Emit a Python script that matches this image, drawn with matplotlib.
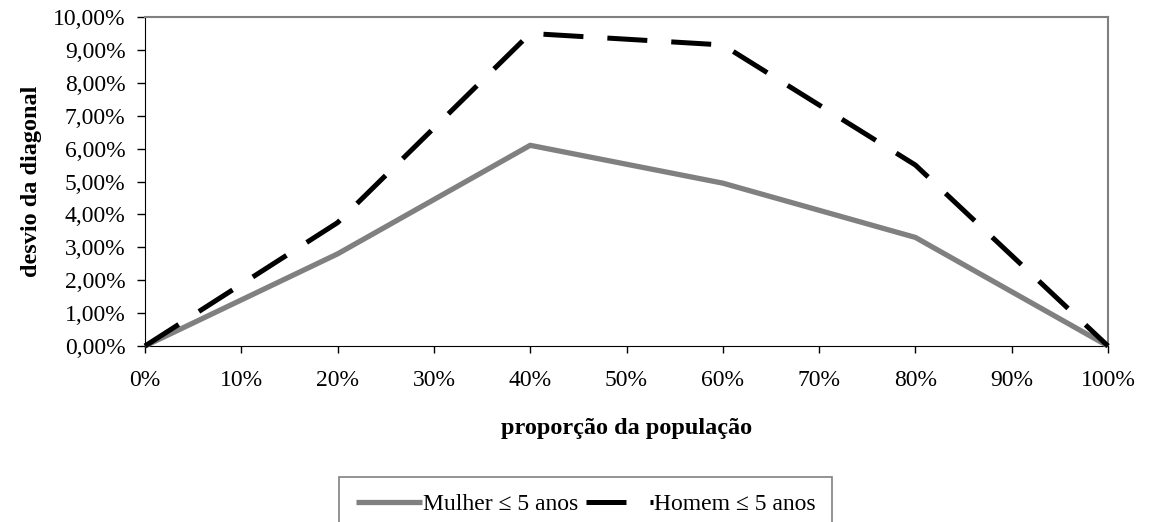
import matplotlib
matplotlib.use("Agg")
import matplotlib.pyplot as plt
from matplotlib.ticker import FuncFormatter

x_pct = [0, 20, 40, 60, 80, 100]
mulher = [0.0, 2.8, 6.1, 4.95, 3.3, 0.0]
homem = [0.0, 3.75, 9.5, 9.15, 5.5, 0.0]
x_ticks = list(range(0, 101, 10))
y_ticks = list(range(0, 11, 1))

plt.rcParams['font.family'] = ['Liberation Serif', 'DejaVu Serif']

W, H = 1149, 522
fig = plt.figure(figsize=(W/100, H/100), dpi=100)
L, R, T, B = 145, 1108, 17, 346
ax = fig.add_axes([L/W, 1-B/H, (R-L)/W, (B-T)/H])

ax.plot(x_pct, mulher, color='#808080', lw=3.8, solid_capstyle='butt',
        label='Mulher ≤ 5 anos', zorder=3, clip_on=False)
ax.plot(x_pct, homem, color='black', lw=3.6, dashes=(8.0, 4.8),
        label='Homem ≤ 5 anos', zorder=4, clip_on=False)

ax.set_xlim(0, 100)
ax.set_ylim(0, 10)
ax.set_xticks(x_ticks)
ax.set_yticks(y_ticks)
ax.xaxis.set_major_formatter(FuncFormatter(lambda v, p: f"{int(round(v))}%"))
ax.yaxis.set_major_formatter(FuncFormatter(lambda v, p: f"{v:.2f}".replace('.', ',') + "%"))
ax.tick_params(axis='both', direction='out', width=1, labelsize=17, colors='black')
ax.tick_params(axis='x', length=5, pad=12)
ax.tick_params(axis='y', length=6, pad=8)
for s in ['top', 'right']:
    ax.spines[s].set_color('#808080')
    ax.spines[s].set_linewidth(1.5)
for s in ['left', 'bottom']:
    ax.spines[s].set_color('black')

ax.set_xlabel('proporção da população', fontsize=17.5, fontweight='bold', labelpad=20)
ax.set_ylabel('desvio da diagonal', fontsize=17.5, fontweight='bold', labelpad=8)

leg = fig.legend(loc='upper center', bbox_to_anchor=(585.5/W, 1-477/H), ncol=2,
                 frameon=True, fancybox=False, fontsize=17, handlelength=2.8,
                 handletextpad=0.05, columnspacing=0.35, borderpad=0.7,
                 borderaxespad=0)
leg.get_frame().set_edgecolor('#606060')
leg.get_frame().set_linewidth(1.2)

fig.savefig('out.png', dpi=100)
